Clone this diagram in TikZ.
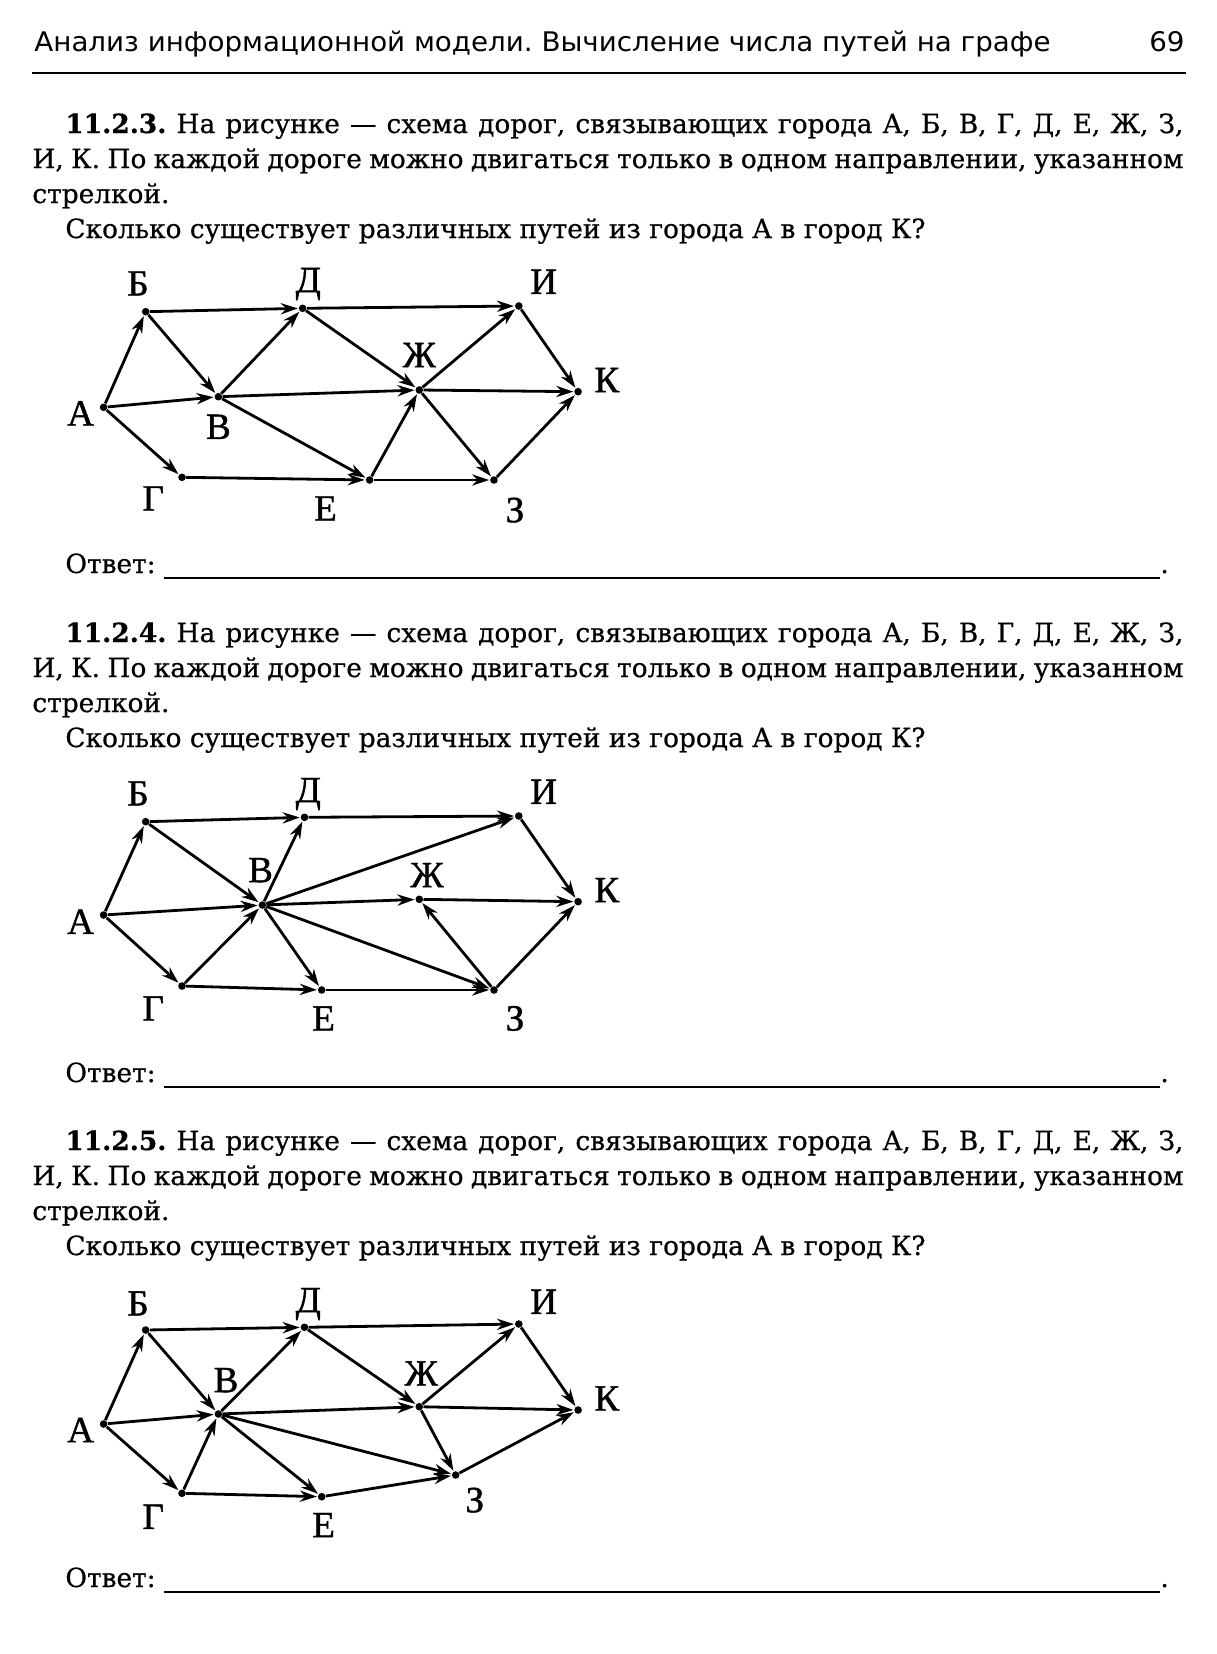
\documentclass[tikz,border=0pt]{standalone}
\usepackage{fontspec}
\setmainfont[FakeBold=0.6]{DejaVu Serif}
\newfontfamily\headfont[FakeStretch=1.027]{DejaVu Sans}
\newfontfamily\townfont[FakeBold=1.2]{Liberation Serif}
\usepackage{tikz}
\usetikzlibrary{arrows.meta}
\frenchspacing
\newcommand{\roadtask}[1]{\hspace*{16.5pt}\textbf{#1} На рисунке — схема дорог, связывающих города А, Б, В, Г, Д, Е, Ж, З,\linebreak
И, К. По каждой дороге можно двигаться только в одном направлении, указанном\linebreak
стрелкой.\par
\hspace*{16.5pt}Сколько существует различных путей из города А в город К?}

\begin{document}
\begin{tikzpicture}[x=0.5pt,y=-0.5pt,
  town/.style={circle,fill=black,inner sep=0pt,minimum size=3.8pt},
  lbl/.style={font=\townfont\fontsize{18.5pt}{18.5pt}\selectfont,inner sep=0pt,text height=12.2pt,text depth=0pt},
  road/.style={line width=1.4pt,-{Stealth[length=8.5pt,width=5.6pt]},shorten >=0.3pt},
  task/.style={anchor=base west,inner sep=0pt,text width=575.5pt,align=justify,
    font=\fontsize{13.2pt}{17.5pt}\selectfont},
  answer/.style={anchor=base west,inner sep=0pt,font=\fontsize{13.2pt}{17.5pt}\selectfont}]
\fill[white,use as bounding box] (0,0) rectangle (1216,1654);

% page head
\node[anchor=base west,inner sep=0pt,font=\headfont\fontsize{13.5pt}{16pt}\selectfont] (head) at (34,51)
  {Анализ информационной модели. Вычисление числа путей на графе};
\node[anchor=base east,inner sep=0pt,font=\headfont\fontsize{13.5pt}{16pt}\selectfont] (pagenum) at (1185,51) {69};
\draw[line width=1.1pt] (32,73) -- (1186,73);

% 11.2.3
\node[task] (task1) at (32,133) {\hyphenpenalty=10000\tolerance=9999 \roadtask{11.2.3.}};
\node[town] (a1) at (103.6,407.3) {};
\node[town] (b1) at (145.7,311.7) {};
\node[town] (v1) at (218.4,396.7) {};
\node[town] (g1) at (182,477.3) {};
\node[town] (d1) at (302.6,308.3) {};
\node[town] (e1) at (369.6,480) {};
\node[town] (zh1) at (419.3,390) {};
\node[town] (z1) at (494,480) {};
\node[town] (i1) at (518.8,306) {};
\node[town] (k1) at (578.1,391.7) {};
\node[lbl] (na1) at (80.6,413.3) {А};
\node[lbl] (nb1) at (138,283.3) {Б};
\node[lbl] (nv1) at (218.4,426.7) {В};
\node[lbl] (ng1) at (153.3,498.3) {Г};
\node[lbl] (nd1) at (308.3,280) {Д};
\node[lbl] (ne1) at (325.5,508.3) {Е};
\node[lbl] (nzh1) at (419.3,355) {Ж};
\node[lbl] (nz1) at (515,510) {З};
\node[lbl] (ni1) at (543.7,281.7) {И};
\node[lbl] (nk1) at (606.8,380) {К};
\path[road] (a1) edge (b1) edge (v1) edge (g1)
  (b1) edge (d1) edge (v1)
  (v1) edge (d1) edge (zh1) edge (e1)
  (g1) edge (e1)
  (d1) edge (i1) edge (zh1)
  (e1) edge (zh1) edge (z1)
  (zh1) edge (i1) edge (k1) edge (z1)
  (i1) edge (k1)
  (z1) edge (k1);
\node[answer] (otv1) at (65,573) {Ответ:};
\node[answer] (dot1) at (1160,573) {.};
\draw[line width=0.8pt] ([xshift=4pt,yshift=-2.5pt]otv1.base east) -- ([yshift=-2.5pt]dot1.base west);

% 11.2.4
\node[task] (task2) at (32,642) {\hyphenpenalty=10000\tolerance=9999 \roadtask{11.2.4.}};
\node[town] (a2) at (103.6,915) {};
\node[town] (b2) at (145.7,821.7) {};
\node[town] (v2) at (262.4,905) {};
\node[town] (g2) at (182,986) {};
\node[town] (d2) at (304.5,817.3) {};
\node[town] (e2) at (321.7,990) {};
\node[town] (zh2) at (419.3,899.3) {};
\node[town] (z2) at (494,990) {};
\node[town] (i2) at (518.8,816) {};
\node[town] (k2) at (578.1,901.7) {};
\node[lbl] (na2) at (80.6,921.7) {А};
\node[lbl] (nb2) at (138,793.3) {Б};
\node[lbl] (nv2) at (260.5,870) {В};
\node[lbl] (ng2) at (153.3,1008.3) {Г};
\node[lbl] (nd2) at (308.3,790) {Д};
\node[lbl] (ne2) at (323.6,1018.3) {Е};
\node[lbl] (nzh2) at (427,875) {Ж};
\node[lbl] (nz2) at (515,1018.3) {З};
\node[lbl] (ni2) at (543.7,791.7) {И};
\node[lbl] (nk2) at (606.8,890) {К};
\path[road] (a2) edge (b2) edge (v2) edge (g2)
  (b2) edge (d2) edge (v2)
  (g2) edge (v2) edge (e2)
  (v2) edge (d2) edge (i2) edge (zh2) edge (e2) edge (z2)
  (d2) edge (i2)
  (e2) edge (z2)
  (z2) edge (zh2) edge (k2)
  (zh2) edge (k2)
  (i2) edge (k2);
\node[answer] (otv2) at (65,1082) {Ответ:};
\node[answer] (dot2) at (1160,1082) {.};
\draw[line width=0.8pt] ([xshift=4pt,yshift=-2.5pt]otv2.base east) -- ([yshift=-2.5pt]dot2.base west);

% 11.2.5
\node[task] (task3) at (32,1150) {\hyphenpenalty=10000\tolerance=9999 \roadtask{11.2.5.}};
\node[town] (a3) at (103.6,1424) {};
\node[town] (b3) at (145.7,1330) {};
\node[town] (v3) at (218.4,1414) {};
\node[town] (g3) at (182,1493.3) {};
\node[town] (d3) at (304.5,1327.3) {};
\node[town] (e3) at (321.7,1496.7) {};
\node[town] (zh3) at (419.3,1406.7) {};
\node[town] (z3) at (455.7,1475) {};
\node[town] (i3) at (518.8,1324) {};
\node[town] (k3) at (578.1,1410) {};
\node[lbl] (na3) at (80.6,1430) {А};
\node[lbl] (nb3) at (138,1303.3) {Б};
\node[lbl] (nv3) at (226,1380) {В};
\node[lbl] (ng3) at (153.3,1516.7) {Г};
\node[lbl] (nd3) at (308.3,1300) {Д};
\node[lbl] (ne3) at (323.6,1525) {Е};
\node[lbl] (nzh3) at (421.2,1373.3) {Ж};
\node[lbl] (nz3) at (474.8,1500) {З};
\node[lbl] (ni3) at (543.7,1301.7) {И};
\node[lbl] (nk3) at (606.8,1398.3) {К};
\path[road] (a3) edge (b3) edge (v3) edge (g3)
  (b3) edge (d3) edge (v3)
  (g3) edge (v3) edge (e3)
  (v3) edge (d3) edge (zh3) edge (e3) edge (z3)
  (d3) edge (i3) edge (zh3)
  (e3) edge (z3)
  (zh3) edge (i3) edge (k3) edge (z3)
  (i3) edge (k3)
  (z3) edge (k3);
\node[answer] (otv3) at (65,1587) {Ответ:};
\node[answer] (dot3) at (1160,1587) {.};
\draw[line width=0.8pt] ([xshift=4pt,yshift=-2.5pt]otv3.base east) -- ([yshift=-2.5pt]dot3.base west);
\end{tikzpicture}
\end{document}
